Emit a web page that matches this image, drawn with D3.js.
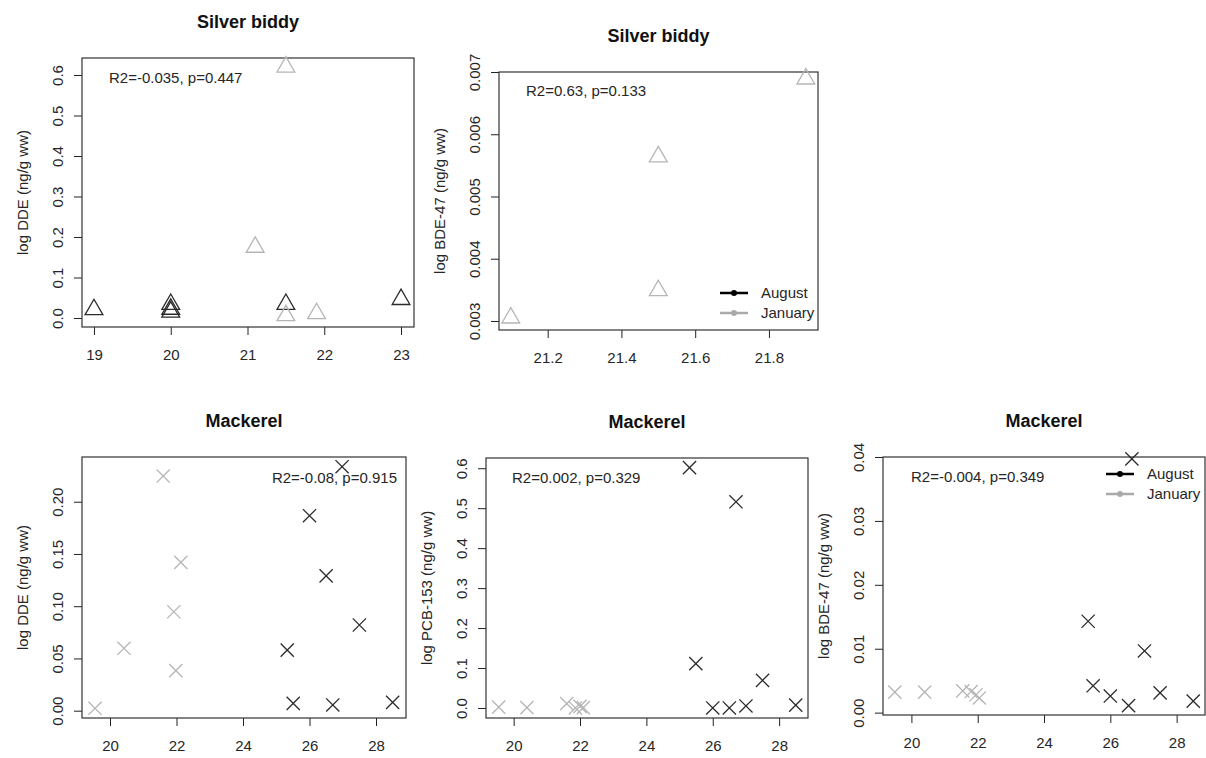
<!DOCTYPE html>
<html>
<head>
<meta charset="utf-8">
<script src="https://cdn.jsdelivr.net/npm/d3@7"></script>
<style>
  body { margin: 0; background: #fff; }
  svg { display: block; font-family: "Liberation Sans", Arial, sans-serif; }
</style>
</head>
<body>
<div id="figure"></div>
<script>
// --- data ---
// silver biddy, log DDE
var biddyDdeAugX = [19, 20, 20, 20, 21.5, 23];
var biddyDdeAugY = [0.021, 0.015, 0.022, 0.034, 0.034, 0.046];
var biddyDdeJanX = [21.1, 21.5, 21.5, 21.9];
var biddyDdeJanY = [0.175, 0.62, 0.006, 0.011];
// silver biddy, log BDE-47
var biddyBdeJanX = [21.1, 21.5, 21.5, 21.9];
var biddyBdeJanY = [0.00305, 0.00349, 0.00564, 0.00689];
// mackerel, log DDE
var mackDdeJanX = [19.55, 20.42, 21.6, 21.92, 22.13, 21.98];
var mackDdeJanY = [0.0023, 0.0597, 0.2246, 0.0947, 0.142, 0.0383];
var mackDdeAugX = [25.33, 25.51, 26.0, 26.5, 26.7, 26.98, 27.5, 28.5];
var mackDdeAugY = [0.058, 0.007, 0.1866, 0.129, 0.0055, 0.2335, 0.082, 0.008];
// mackerel, log PCB-153
var mackPcbJanX = [19.55, 20.4, 21.6, 21.86, 22.0, 22.1];
var mackPcbJanY = [0.002, 0.001, 0.011, 0.0, 0.004, 0.001];
var mackPcbAugX = [25.3, 25.49, 26.0, 26.5, 26.7, 27.0, 27.5, 28.5];
var mackPcbAugY = [0.6015, 0.111, 0.0, 0.0, 0.516, 0.005, 0.069, 0.007];
// mackerel, log BDE-47
var mackBdeJanX = [19.5, 20.4, 21.55, 21.8, 21.95, 22.05];
var mackBdeJanY = [0.0032, 0.0032, 0.0034, 0.0033, 0.0028, 0.0023];
var mackBdeAugX = [25.33, 25.48, 26.0, 26.55, 26.65, 27.03, 27.5, 28.5];
var mackBdeAugY = [0.0143, 0.0042, 0.0026, 0.0011, 0.0397, 0.00965, 0.0031, 0.0018];

var titles = ["Silver biddy", "Silver biddy", "Mackerel", "Mackerel", "Mackerel"];
var yLabels = ["log DDE (ng/g ww)", "log BDE-47 (ng/g ww)", "log DDE (ng/g ww)",
               "log PCB-153 (ng/g ww)", "log BDE-47 (ng/g ww)"];
var stats = ["R2=-0.035, p=0.447", "R2=0.63, p=0.133", "R2=-0.08, p=0.915",
             "R2=0.002, p=0.329", "R2=-0.004, p=0.349"];
var months = ["August", "January"];

var W = 1206, H = 758;
var colAug = "#2b2b2b", colJan = "#b5b5b5";
var txt = "#262626";
var fs = "15px";

function pts(xs, ys, m) {
	return xs.map(function(x, i) { return {x: x, y: ys[i], m: m}; });
}

var panels = [
	{box: {l: 82, r: 414, t: 58, b: 327}, xd: [18.844, 23.169], yd: [-0.0222, 0.642],
	 xt: [19, 20, 21, 22, 23], yt: [0, 0.1, 0.2, 0.3, 0.4, 0.5, 0.6], yf: ".1f", xf: "d",
	 shape: "tri", stat: {x: 109, y: 83, anchor: "start"}, legend: null,
	 data: pts(biddyDdeAugX, biddyDdeAugY, 0).concat(pts(biddyDdeJanX, biddyDdeJanY, 1))},
	{box: {l: 499, r: 818, t: 72, b: 330}, xd: [21.068, 21.933], yd: [0.002855, 0.007],
	 xt: [21.2, 21.4, 21.6, 21.8], yt: [0.003, 0.004, 0.005, 0.006, 0.007], yf: ".3f", xf: ".1f",
	 shape: "tri", stat: {x: 526, y: 96, anchor: "start"}, legend: {x: 720, y: 293},
	 data: pts(biddyBdeJanX, biddyBdeJanY, 1)},
	{box: {l: 82, r: 406, t: 457, b: 718}, xd: [19.158, 28.902], yd: [-0.007, 0.2428],
	 xt: [20, 22, 24, 26, 28], yt: [0, 0.05, 0.1, 0.15, 0.2], yf: ".2f", xf: "d",
	 shape: "x", stat: {x: 397, y: 483, anchor: "end"}, legend: null,
	 data: pts(mackDdeJanX, mackDdeJanY, 1).concat(pts(mackDdeAugX, mackDdeAugY, 0))},
	{box: {l: 486, r: 808, t: 458, b: 718}, xd: [19.167, 28.87], yd: [-0.0251, 0.6256],
	 xt: [20, 22, 24, 26, 28], yt: [0, 0.1, 0.2, 0.3, 0.4, 0.5, 0.6], yf: ".1f", xf: "d",
	 shape: "x", stat: {x: 512, y: 483, anchor: "start"}, legend: null,
	 data: pts(mackPcbJanX, mackPcbJanY, 1).concat(pts(mackPcbAugX, mackPcbAugY, 0))},
	{box: {l: 883, r: 1205, t: 457, b: 715}, xd: [19.143, 28.855], yd: [-0.00037, 0.04],
	 xt: [20, 22, 24, 26, 28], yt: [0, 0.01, 0.02, 0.03, 0.04], yf: ".2f", xf: "d",
	 shape: "x", stat: {x: 911, y: 482, anchor: "start"}, legend: {x: 1106, y: 474},
	 data: pts(mackBdeJanX, mackBdeJanY, 1).concat(pts(mackBdeAugX, mackBdeAugY, 0))}
];

var svg = d3.select("#figure").append("svg").attr("width", W).attr("height", H);
svg.append("rect").attr("width", W).attr("height", H).attr("fill", "#fff");

// R pch=2 triangle (centroid on the point) and pch=4 cross
var XR = 6.6;
var TR = 1.555 * XR, TX = 1.3468 * XR, TY = 0.7776 * XR;
function markPath(shape) {
	if (shape == "tri")
		return "M0," + (-TR) + "L" + TX + "," + TY + "L" + (-TX) + "," + TY + "Z";
	return "M" + (-XR) + "," + (-XR) + "L" + XR + "," + XR + "M" + (-XR) + "," + XR + "L" + XR + "," + (-XR);
}

panels.forEach(function(p, k) {
	var b = p.box;
	var x = d3.scaleLinear().domain(p.xd).range([b.l, b.r]);
	var y = d3.scaleLinear().domain(p.yd).range([b.b, b.t]);
	var g = svg.append("g");

	// title
	g.append("text").text(titles[k])
		.attr("x", (b.l + b.r) / 2).attr("y", b.t - 30)
		.attr("text-anchor", "middle").attr("font-weight", "bold")
		.attr("font-size", "18px").attr("fill", "#111");

	// x axis
	var xa = g.append("g").attr("transform", "translate(0," + b.b + ")")
		.attr("font-size", fs).attr("font-family", "Liberation Sans, Arial, sans-serif")
		.call(d3.axisBottom(x).tickValues(p.xt).tickFormat(d3.format(p.xf))
			.tickSize(8).tickPadding(14));
	xa.attr("font-size", fs).attr("font-family", "Liberation Sans, Arial, sans-serif");
	xa.select(".domain").remove();
	xa.selectAll("line").attr("stroke", "#222");
	xa.selectAll("text").attr("fill", txt);

	// y axis, labels parallel to the axis like R
	var ya = g.append("g").attr("transform", "translate(" + b.l + ",0)")
		.call(d3.axisLeft(y).tickValues(p.yt).tickFormat(d3.format(p.yf)).tickSize(8));
	ya.attr("font-size", fs).attr("font-family", "Liberation Sans, Arial, sans-serif");
	ya.select(".domain").remove();
	ya.selectAll("line").attr("stroke", "#222");
	ya.selectAll("text")
		.attr("x", null).attr("dy", null)
		.attr("text-anchor", "middle")
		.attr("transform", "translate(-19,0) rotate(-90)")
		.attr("fill", txt);

	g.append("text").text(yLabels[k])
		.attr("transform", "translate(" + (b.l - 54) + "," + ((b.t + b.b) / 2) + ") rotate(-90)")
		.attr("text-anchor", "middle").attr("font-size", fs).attr("fill", txt);

	// frame
	g.append("rect").attr("x", b.l).attr("y", b.t)
		.attr("width", b.r - b.l).attr("height", b.b - b.t)
		.attr("fill", "none").attr("stroke", "#333").attr("stroke-width", 1.2);

	// points
	g.selectAll("path.pt").data(p.data).enter().append("path")
		.attr("class", "pt")
		.attr("d", markPath(p.shape))
		.attr("transform", function(d) { return "translate(" + x(d.x) + "," + y(d.y) + ")"; })
		.attr("fill", "none")
		.attr("stroke", function(d) { return d.m == 0 ? colAug : colJan; })
		.attr("stroke-width", 1.3);

	// stat text
	g.append("text").text(stats[k])
		.attr("x", p.stat.x).attr("y", p.stat.y)
		.attr("text-anchor", p.stat.anchor)
		.attr("font-size", fs).attr("fill", txt);

	// legend
	if (p.legend) {
		var lg = g.selectAll("g.leg").data(months).enter().append("g")
			.attr("class", "leg")
			.attr("transform", function(d, i) { return "translate(" + p.legend.x + "," + (p.legend.y + i * 20) + ")"; });
		lg.append("line").attr("x1", 0).attr("x2", 28).attr("y1", 0).attr("y2", 0)
			.attr("stroke", function(d, i) { return i == 0 ? "#000" : "#aaa"; })
			.attr("stroke-width", 2.5);
		lg.append("circle").attr("cx", 14).attr("cy", 0).attr("r", 3)
			.attr("fill", function(d, i) { return i == 0 ? "#000" : "#aaa"; });
		lg.append("text").text(function(d) { return d; })
			.attr("x", 41).attr("y", 0).attr("dy", "0.35em")
			.attr("font-size", fs).attr("fill", txt);
	}
});
</script>
</body>
</html>
